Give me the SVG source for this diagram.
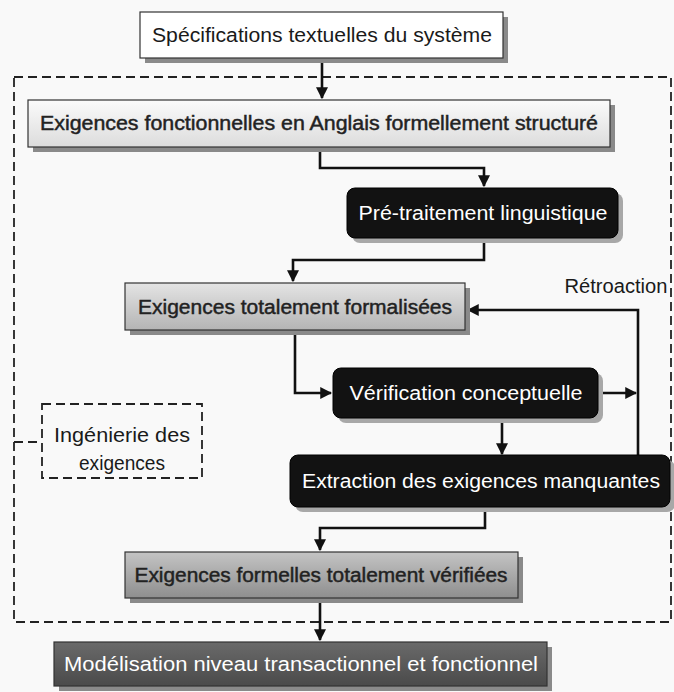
<svg xmlns="http://www.w3.org/2000/svg" width="674" height="692" viewBox="0 0 674 692">
  <defs>
    <linearGradient id="gLight" x1="0" y1="0" x2="0" y2="1">
      <stop offset="0" stop-color="#fbfbfb"/>
      <stop offset="1" stop-color="#dcdcdc"/>
    </linearGradient>
    <linearGradient id="gMid" x1="0" y1="0" x2="0" y2="1">
      <stop offset="0" stop-color="#e4e4e4"/>
      <stop offset="1" stop-color="#b4b4b4"/>
    </linearGradient>
    <linearGradient id="gDark" x1="0" y1="0" x2="0" y2="1">
      <stop offset="0" stop-color="#c4c4c4"/>
      <stop offset="1" stop-color="#8e8e8e"/>
    </linearGradient>
    <linearGradient id="gDeep" x1="0" y1="0" x2="0" y2="1">
      <stop offset="0" stop-color="#6a6a6a"/>
      <stop offset="1" stop-color="#4a4a4a"/>
    </linearGradient>
    <marker id="arrow" viewBox="0 0 10 10" refX="9" refY="5" markerWidth="4.6" markerHeight="4.6" orient="auto" markerUnits="strokeWidth">
      <path d="M0,0 L10,5 L0,10 z" fill="#111"/>
    </marker>
  </defs>
  <style>
    .shadow { fill: #8a8a8a; }
    .shadowLight { fill: #a8a8a8; }
    .box { stroke: #333; stroke-width: 1.2; }
    .black { fill: #121212; stroke: #000; stroke-width: 1; }
    .lbl { font-family: "Liberation Sans", Arial, sans-serif; font-size: 20px; text-anchor: middle; fill: #1a1a1a; }
    .semi { stroke: #222; stroke-width: 0.45; fill: #222; }
    .white { fill: #ffffff; }
    .wire { fill: none; stroke: #111; stroke-width: 2.6; }
    .dash { fill: none; stroke: #222; stroke-width: 1.8; stroke-dasharray: 9 5; }
  </style>

  <rect width="674" height="692" fill="#f9f9f9"/>

  <!-- requirements engineering boundary -->
  <g id="boundary">
    <rect class="dash" x="14" y="77" width="657" height="545"/>
  </g>

  <g id="ingenierie">
    <rect class="dash" x="42" y="404" width="160" height="74" stroke-width="2"/>
    <line class="dash" x1="14" y1="442" x2="42" y2="442"/>
    <text class="lbl" x="122" y="442" textLength="136" lengthAdjust="spacingAndGlyphs">Ingénierie des</text>
    <text class="lbl" x="122" y="470" textLength="86" lengthAdjust="spacingAndGlyphs">exigences</text>
  </g>

  <!-- connectors -->
  <g id="connectors">
    <path class="wire" d="M322,58 V98" marker-end="url(#arrow)"/>
    <path class="wire" d="M320,147 V168 H484 V186" marker-end="url(#arrow)"/>
    <path class="wire" d="M484,238 V260 H293 V281" marker-end="url(#arrow)"/>
    <path class="wire" d="M295,330 V393 H331" marker-end="url(#arrow)"/>
    <path class="wire" d="M598,393 H636" marker-end="url(#arrow)"/>
    <path class="wire" d="M638,456 V310 H468" marker-end="url(#arrow)"/>
    <path class="wire" d="M502,418 V454" marker-end="url(#arrow)"/>
    <path class="wire" d="M485,507 V528 H320 V550" marker-end="url(#arrow)"/>
    <path class="wire" d="M320,598 V640" marker-end="url(#arrow)"/>
    <text class="lbl" x="616" y="293" textLength="103" lengthAdjust="spacingAndGlyphs">Rétroaction</text>
  </g>

  <g id="specifications">
    <rect class="shadow" x="145" y="17" width="363" height="46"/>
    <rect class="box" x="140" y="12" width="363" height="46" fill="#ffffff"/>
    <text class="lbl" x="322" y="42" textLength="340" lengthAdjust="spacingAndGlyphs">Spécifications textuelles du système</text>
  </g>

  <g id="exigences-fonctionnelles">
    <rect class="shadow" x="33" y="105" width="582" height="47"/>
    <rect class="box" x="28" y="100" width="582" height="47" fill="url(#gLight)"/>
    <text class="lbl semi" x="319" y="130" textLength="558" lengthAdjust="spacingAndGlyphs">Exigences fonctionnelles en Anglais formellement structuré</text>
  </g>

  <g id="pretraitement">
    <rect class="shadowLight" x="352" y="193" width="271" height="50" rx="8"/>
    <rect class="black" x="347" y="188" width="271" height="50" rx="8"/>
    <text class="lbl white" x="483" y="220" textLength="249" lengthAdjust="spacingAndGlyphs">Pré-traitement linguistique</text>
  </g>

  <g id="exigences-formalisees">
    <rect class="shadow" x="130" y="288" width="340" height="47"/>
    <rect class="box" x="125" y="283" width="340" height="47" fill="url(#gMid)"/>
    <text class="lbl semi" x="295" y="314" textLength="314" lengthAdjust="spacingAndGlyphs">Exigences totalement formalisées</text>
  </g>

  <g id="verification">
    <rect class="shadowLight" x="338" y="373" width="265" height="50" rx="8"/>
    <rect class="black" x="333" y="368" width="265" height="50" rx="8"/>
    <text class="lbl white" x="466" y="400" textLength="233" lengthAdjust="spacingAndGlyphs">Vérification conceptuelle</text>
  </g>

  <g id="extraction">
    <rect class="shadowLight" x="295" y="460" width="380" height="52" rx="8"/>
    <rect class="black" x="290" y="455" width="380" height="52" rx="8"/>
    <text class="lbl white" x="481" y="488" textLength="358" lengthAdjust="spacingAndGlyphs">Extraction des exigences manquantes</text>
  </g>

  <g id="exigences-verifiees">
    <rect class="shadow" x="130" y="557" width="393" height="46"/>
    <rect class="box" x="125" y="552" width="393" height="46" fill="url(#gDark)"/>
    <text class="lbl semi" x="321" y="582" textLength="373" lengthAdjust="spacingAndGlyphs">Exigences formelles totalement vérifiées</text>
  </g>

  <g id="modelisation">
    <rect class="shadow" x="59" y="647" width="493" height="44"/>
    <rect class="box" x="54" y="642" width="493" height="44" fill="url(#gDeep)"/>
    <text class="lbl white" x="301" y="671" textLength="474" lengthAdjust="spacingAndGlyphs">Modélisation niveau transactionnel et fonctionnel</text>
  </g>
</svg>
